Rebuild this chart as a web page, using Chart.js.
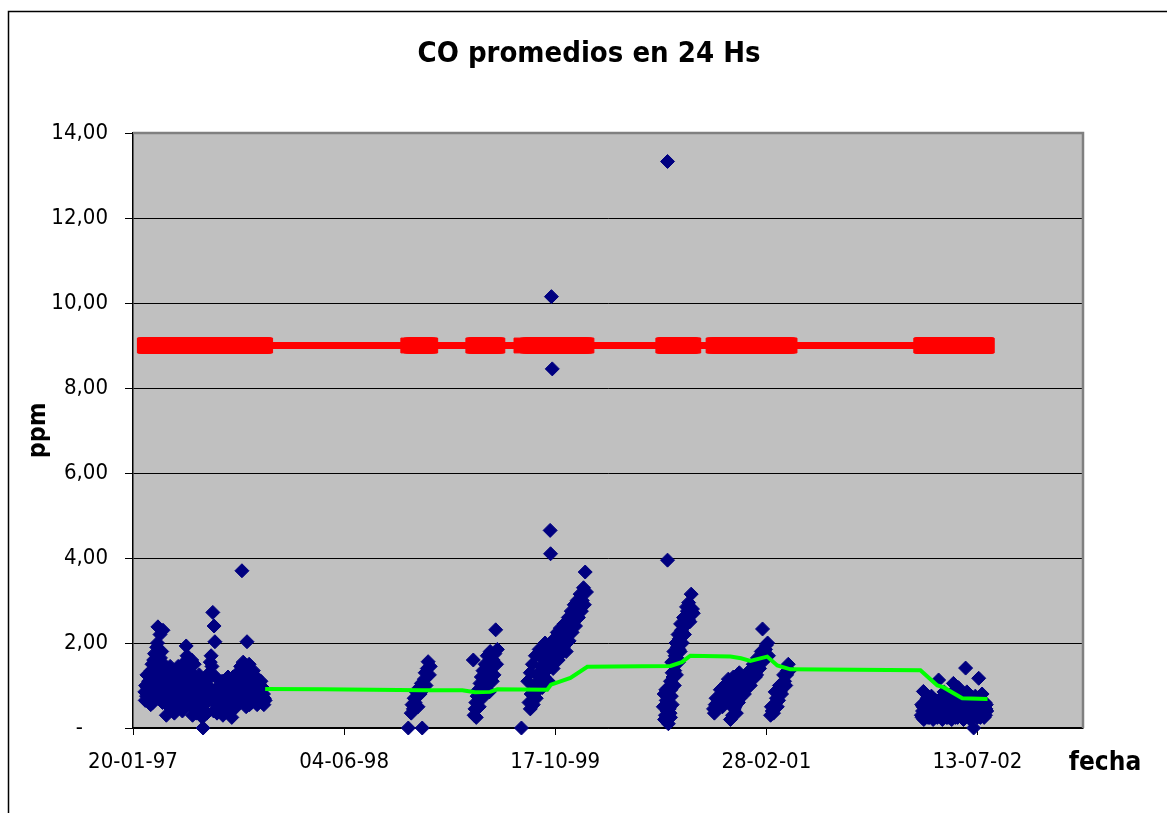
<!DOCTYPE html>
<html>
<head>
<meta charset="utf-8">
<script src="https://cdn.jsdelivr.net/npm/chart.js@4/dist/chart.umd.min.js"></script>
<style>
  html, body { margin: 0; padding: 0; background: #ffffff; }
  #wrap { width: 1167px; height: 813px; position: relative; }
</style>
</head>
<body>
<div id="wrap"><canvas id="c"></canvas></div>
<script>
// ---- DATA ----------------------------------------------------------
// x = days since 20-01-97, y = CO 24 h average (ppm)
const baseDate = [1997, 0, 20];
const xTicks = [0, 500, 1000, 1500, 2000];   // 20-01-97 ... 13-07-02
const xMaxDays = 2250;
const yTicks = [0, 2, 4, 6, 8, 10, 12, 14];
const chartTitle = 'CO promedios en 24 Hs';
const yTitle = 'ppm';
const xTitle = 'fecha';
const limitPpm = 9.0;   // norma: 9 ppm

const period1 = [[28,0.85],[30,1.0],[32,0.75],[34,0.95],[37,1.1],[39,0.7],[41,1.2],[43,1.35],[45,1.5],[47,0.6],[49,1.6],[51,1.75],[54,1.4],[56,1.9],[58,2.0],[59,2.38],[60,1.1],[62,0.9],[64,2.2],[68,1.8],[71,2.3],[73,1.5],[75,1.3],[77,1.0],[79,0.3],[81,0.55],[83,0.8],[85,1.2],[88,1.45],[90,0.45],[92,0.7],[94,1.0],[96,1.3],[98,0.35],[100,0.6],[102,0.9],[105,1.1],[107,1.45],[109,0.5],[111,0.75],[113,1.25],[115,0.95],[117,0.4],[119,0.65],[122,1.55],[124,1.1],[126,1.93],[128,1.7],[130,0.8],[132,1.35],[134,0.55],[136,1.0],[139,1.6],[141,0.3],[143,0.75],[145,1.5],[147,1.2],[149,0.9],[151,1.1],[153,0.5],[156,0.65],[158,0.85],[160,1.05],[162,0.4],[164,0.25],[166,0.0],[168,0.55],[170,0.7],[173,0.85],[175,0.35],[177,1.0],[179,0.65],[181,1.3],[183,1.55],[185,1.7],[187,1.45],[189,2.72],[192,2.4],[194,2.03],[196,1.2],[198,0.9],[200,0.5],[202,0.75],[204,1.0],[207,0.6],[209,0.85],[211,1.1],[213,0.3],[215,0.55],[217,0.8],[219,0.95],[221,0.7],[224,1.05],[226,0.5],[228,0.75],[230,0.9],[232,1.1],[234,0.25],[236,0.6],[238,0.85],[241,1.0],[243,0.7],[245,0.95],[247,0.55],[249,0.8],[251,1.15],[253,0.65],[256,1.3],[258,3.7],[262,0.9],[264,1.2],[266,1.4],[268,0.5],[270,2.03],[272,0.75],[274,1.05],[275,1.5],[277,0.85],[279,1.25],[281,0.6],[283,1.0],[285,1.35],[287,0.7],[289,0.95],[292,1.2],[294,0.55],[296,0.85],[298,1.05],[300,0.65],[302,0.9],[304,0.75],[306,0.6],[309,0.8],[311,0.7],[313,0.65],
  [29,0.65],[33,1.25],[38,0.9],[42,0.55],[46,1.05],[50,0.8],[53,1.2],[57,0.7],[61,1.45],[65,1.65],[67,1.05],[70,0.6],[74,0.85],[78,1.4],[82,1.05],[86,0.65],[89,0.95],[93,1.35],[97,0.75],[101,1.15],[104,0.45],[108,0.9],[112,1.05],[116,1.35],[120,0.85],[123,0.6],[127,1.25],[131,1.05],[135,0.75],[138,1.3],[142,0.95],[146,0.6],[150,0.35],[154,0.95],[157,1.25],[161,0.7],[165,0.45],[169,1.0],[172,1.15],[176,0.8],[180,0.95],[184,1.2],[188,0.65],[191,0.4],[195,0.8],[199,0.35],[203,0.95],[206,0.45],[210,0.8],[214,0.6],[218,0.4],[222,0.9],[225,1.2],[229,0.45],[233,0.7],[237,1.2],[240,0.45],[244,1.05],[248,1.3],[252,0.9],[255,1.45],[259,0.75],[261,1.55],[263,1.1],[267,0.75],[271,1.3],[276,0.55],[280,1.1],[284,0.8],[288,1.2],[291,0.6],[295,1.0],[299,0.8],[303,1.1],[307,0.95],[310,0.55]];

const period2 = [[652,0.0],[659,0.35],[661,0.55],[664,0.45],[666,0.7],[668,0.6],[671,0.85],[673,0.75],[675,0.5],[678,0.95],[680,0.8],[683,1.05],[685,0.0],[687,0.9],[690,1.15],[692,1.3],[694,1.0],[697,1.4],[699,1.56],[702,1.25],[704,1.45]];

const period3 = [[806,1.6],[808,0.3],[810,0.45],[812,0.6],[813,0.25],[815,0.75],[818,0.9],[820,0.5],[822,1.05],[825,1.2],[827,0.7],[829,1.35],[832,1.0],[834,1.5],[837,1.15],[839,1.7],[841,1.3],[844,0.85],[846,1.8],[848,1.45],[851,1.1],[853,1.6],[855,1.25],[857,1.75],[859,2.31],[861,1.5],[863,1.85]];

const period4 = [[920,0.0],[935,1.1],[938,0.6],[941,0.45],[941,1.3],[943,0.8],[946,1.5],[948,0.55],[950,1.0],[953,1.7],[955,0.7],[957,1.25],[960,0.9],[962,1.85],[965,1.1],[967,1.45],[969,0.95],[972,1.6],[974,1.2],[976,2.0],[979,1.35],[981,1.75],[984,1.1],[986,1.5],[988,4.65],[989,4.1],[991,10.15],[993,8.45],[993,1.9],[995,1.4],[998,2.1],[1000,1.65],[1002,1.85],[1005,2.25],[1007,1.6],[1010,2.0],[1012,2.35],[1014,1.75],[1017,2.15],[1019,1.9],[1021,2.45],[1024,2.1],[1026,1.8],[1029,2.3],[1031,2.6],[1033,2.05],[1036,2.4],[1038,2.75],[1040,2.25],[1043,2.55],[1045,2.9],[1048,2.4],[1050,2.7],[1052,3.0],[1055,2.6],[1057,2.85],[1059,3.15],[1062,2.75],[1064,3.0],[1067,3.3],[1069,2.9],[1071,3.67],[1074,3.2]];

const period5 = [[1256,0.5],[1258,0.8],[1261,0.3],[1263,0.65],[1266,13.33],[1266,3.95],[1268,0.1],[1268,0.95],[1270,0.45],[1273,1.1],[1273,0.25],[1275,0.75],[1277,1.3],[1277,0.55],[1280,1.5],[1282,1.0],[1284,1.7],[1287,1.25],[1289,1.9],[1292,1.55],[1294,2.1],[1296,1.8],[1299,2.3],[1301,2.0],[1303,2.45],[1306,2.2],[1308,2.6],[1310,2.5],[1313,2.75],[1315,2.55],[1318,2.85],[1320,2.65],[1322,3.15],[1325,2.8],[1327,2.7],
  [1259,0.2],[1262,0.9],[1265,0.4],[1269,0.7],[1272,0.35],[1274,0.9],[1276,1.55],[1279,1.2],[1281,1.8],[1283,1.35],[1286,2.0],[1288,1.65],[1291,2.2],[1293,1.85],[1297,2.45],[1300,2.25],[1304,2.6],[1307,2.4],[1311,2.85],[1316,2.95],[1319,2.5]];

const period6 = [[1375,0.45],[1379,0.55],[1384,0.5],[1389,0.7],[1394,0.65],[1398,0.85],[1403,0.75],[1408,1.0],[1413,0.9],[1415,0.2],[1417,1.1],[1420,0.3],[1422,1.2],[1424,0.45],[1427,1.05],[1429,0.35],[1431,1.25],[1434,0.6],[1436,1.3],[1439,0.75],[1441,1.15],[1443,0.9],[1448,0.8],[1453,1.05],[1458,1.15],[1462,1.0],[1467,1.3],[1472,1.4],[1477,1.25],[1481,1.55],[1486,1.6],[1491,2.33],[1493,1.75],[1498,1.85],[1503,2.0],[1505,1.7],[1510,0.3],[1514,0.4],[1519,0.55],[1524,0.7],[1529,0.65],[1533,0.85],[1538,1.0],[1543,1.1],[1548,1.25],[1552,1.5],[1555,1.35],
  [1377,0.35],[1381,0.7],[1386,0.6],[1391,0.9],[1396,0.5],[1401,1.0],[1406,0.7],[1410,1.15],[1418,0.55],[1423,0.75],[1426,0.5],[1432,0.9],[1437,0.7],[1445,1.0],[1450,1.2],[1455,0.95],[1460,1.35],[1464,1.15],[1469,1.5],[1474,1.2],[1479,1.65],[1484,1.4],[1488,1.8],[1496,1.6],[1500,1.95],[1512,0.5],[1517,0.35],[1521,0.85],[1526,0.5],[1531,1.0],[1536,0.8],[1541,1.25],[1546,1.0],[1550,1.35]];

const period7 = [[1867,0.3],[1868,0.55],[1870,0.4],[1872,0.86],[1873,0.2],[1875,0.6],[1877,0.35],[1879,0.5],[1881,0.7],[1883,0.25],[1885,0.45],[1887,0.6],[1889,0.3],[1891,0.75],[1893,0.4],[1895,0.2],[1897,0.55],[1899,0.35],[1901,0.65],[1903,0.45],[1905,0.25],[1908,1.13],[1909,0.5],[1911,0.3],[1913,0.7],[1915,0.4],[1917,0.2],[1919,0.55],[1921,0.85],[1923,0.35],[1925,0.6],[1927,0.25],[1929,0.45],[1931,0.7],[1933,0.3],[1935,0.5],[1937,0.8],[1939,0.2],[1941,0.4],[1943,1.05],[1945,0.6],[1947,0.3],[1949,0.5],[1951,0.75],[1953,0.25],[1955,0.95],[1957,0.45],[1959,0.6],[1961,0.3],[1963,0.8],[1965,0.5],[1967,0.2],[1969,0.65],[1972,1.41],[1973,0.4],[1975,0.85],[1977,0.3],[1979,0.55],[1981,0.7],[1983,0.2],[1985,0.45],[1987,0.6],[1989,0.35],[1991,0.0],[1993,0.5],[1995,0.75],[1997,0.3],[1999,0.55],[2001,0.4],[2003,1.17],[2005,0.65],[2007,0.25],[2009,0.5],[2011,0.8],[2013,0.35],[2015,0.6],[2017,0.45],[2019,0.3],[2021,0.55],[2022,0.4],
  [1869,0.25],[1871,0.5],[1874,0.4],[1876,0.25],[1878,0.45],[1880,0.3],[1882,0.5],[1884,0.35],[1886,0.25],[1888,0.45],[1890,0.55],[1892,0.3],[1894,0.45],[1896,0.4],[1898,0.25],[1900,0.5],[1902,0.3],[1904,0.55],[1906,0.4],[1910,0.65],[1912,0.5],[1914,0.3],[1916,0.55],[1918,0.4],[1920,0.3],[1922,0.5],[1924,0.45],[1926,0.35],[1928,0.55],[1930,0.25],[1932,0.45],[1934,0.4],[1936,0.3],[1938,0.55],[1940,0.5],[1942,0.3],[1944,0.45],[1946,0.4],[1948,0.25],[1950,0.55],[1952,0.4],[1954,0.3],[1956,0.5],[1958,0.35],[1960,0.45],[1962,0.55],[1964,0.25],[1966,0.4],[1968,0.45],[1970,0.3],[1974,0.55],[1976,0.45],[1978,0.35],[1980,0.5],[1982,0.4],[1984,0.3],[1986,0.45],[1988,0.5],[1990,0.3],[1992,0.35],[1994,0.4],[1996,0.55],[1998,0.45],[2000,0.25],[2002,0.35],[2004,0.5],[2006,0.45],[2008,0.35],[2010,0.3],[2012,0.55],[2014,0.4],[2016,0.25],[2018,0.6],[2020,0.45]];

// moving average (green line)
const avgDays = [313, 450, 687, 780, 810, 846, 863, 981, 990, 1036, 1076, 1273, 1300, 1320, 1415, 1440, 1462, 1502, 1526, 1557, 1865, 1905, 1919, 1964, 2024];
const avgPpm  = [0.92, 0.91, 0.89, 0.89, 0.84, 0.85, 0.91, 0.90, 1.02, 1.18, 1.44, 1.46, 1.55, 1.70, 1.68, 1.64, 1.58, 1.68, 1.47, 1.38, 1.36, 1.00, 0.96, 0.70, 0.68];

// ---- BUILD ---------------------------------------------------------
const allPeriods = [period1, period2, period3, period4, period5, period6, period7];
const coPoints = allPeriods.flat().map(p => ({ x: p[0], y: p[1] }));
const limitPoints = [...new Set(allPeriods.flat().map(p => p[0]))].sort((a, b) => a - b).map(d => ({ x: d, y: limitPpm }));
const avgPoints = avgDays.map((d, i) => ({ x: d, y: avgPpm[i] }));

const BASE = Date.UTC(baseDate[0], baseDate[1], baseDate[2]);
function fmtDate(v) {
  const d = new Date(BASE + v * 86400000);
  const dd = String(d.getUTCDate()).padStart(2, '0');
  const mm = String(d.getUTCMonth() + 1).padStart(2, '0');
  const yy = String(d.getUTCFullYear() % 100).padStart(2, '0');
  return dd + '-' + mm + '-' + yy;
}
function fmtPpm(v) {
  if (v === 0) return '-\u2007\u2007';
  return v.toFixed(2).replace('.', ',');
}

const FONT = "'DejaVu Sans Condensed', 'DejaVu Sans', sans-serif";

const decor = {
  id: 'decor',
  beforeDraw(chart) {
    const ctx = chart.ctx, a = chart.chartArea;
    ctx.save();
    ctx.fillStyle = '#ffffff';
    ctx.fillRect(0, 0, chart.width, chart.height);
    ctx.strokeStyle = '#000000';
    ctx.lineWidth = 1.5;
    ctx.strokeRect(8.5, 11.5, 1300, 900);
    ctx.fillStyle = '#C0C0C0';
    ctx.fillRect(a.left, a.top, a.right - a.left, a.bottom - a.top);
    ctx.restore();
  },
  beforeDatasetsDraw(chart) {
    const ctx = chart.ctx, a = chart.chartArea;
    ctx.save();
    ctx.strokeStyle = '#808080';
    ctx.lineWidth = 2.5;
    ctx.beginPath();
    ctx.moveTo(a.left, a.top);
    ctx.lineTo(a.right, a.top);
    ctx.lineTo(a.right, a.bottom);
    ctx.stroke();
    ctx.restore();
  },
  afterDraw(chart) {
    const ctx = chart.ctx;
    ctx.save();
    ctx.fillStyle = '#000000';
    ctx.textAlign = 'center';
    ctx.textBaseline = 'middle';
    ctx.font = "bold 29px " + FONT;
    ctx.fillText(chartTitle, 589, 54);
    ctx.font = "bold 26px " + FONT;
    ctx.textBaseline = 'alphabetic';
    ctx.fillText(xTitle, 1105, 770);
    ctx.restore();
  }
};

new Chart(document.getElementById('c'), {
  type: 'scatter',
  data: {
    datasets: [
      {
        label: 'CO',
        data: coPoints,
        pointStyle: 'rectRot',
        pointRadius: 7,
        pointHoverRadius: 7,
        backgroundColor: '#000080',
        borderColor: '#000080',
        borderWidth: 1,
        clip: false,
        order: 3
      },
      {
        label: 'Norma',
        data: limitPoints,
        showLine: true,
        borderColor: '#FF0000',
        borderWidth: 7,
        pointStyle: 'rect',
        pointRadius: 10.5,
        pointHoverRadius: 10.5,
        pointBackgroundColor: '#FF0000',
        pointBorderColor: '#FF0000',
        pointBorderWidth: 1,
        order: 2
      },
      {
        label: 'Promedio',
        data: avgPoints,
        showLine: true,
        borderColor: '#00FF00',
        borderWidth: 4,
        pointRadius: 0,
        pointHoverRadius: 0,
        tension: 0,
        order: 1
      }
    ]
  },
  options: {
    responsive: true,
    maintainAspectRatio: false,
    animation: false,
    events: [],
    layout: { padding: { left: 0, top: 133, right: 84, bottom: 0 } },
    plugins: { legend: { display: false }, tooltip: { enabled: false }, title: { display: false } },
    scales: {
      x: {
        type: 'linear',
        min: 0,
        max: xMaxDays,
        afterBuildTicks(s) { s.ticks = xTicks.map(v => ({ value: v })); },
        afterFit(s) { s.height = 85; },
        ticks: {
          callback: v => fmtDate(v),
          font: { family: FONT, size: 22 },
          color: '#000000',
          padding: 14,
          maxRotation: 0,
          autoSkip: false
        },
        grid: { drawOnChartArea: false, drawTicks: true, tickLength: 7, color: '#000000', lineWidth: 1 },
        border: { color: '#000000', width: 1.5 }
      },
      y: {
        min: 0,
        max: 14,
        afterBuildTicks(s) { s.ticks = yTicks.map(v => ({ value: v })); },
        afterFit(s) { s.width = 133; },
        ticks: {
          callback: v => fmtPpm(v),
          font: { family: FONT, size: 22 },
          color: '#000000',
          padding: 17
        },
        grid: { color: '#000000', lineWidth: 1, drawTicks: true, tickLength: 8 },
        border: { color: '#000000', width: 1.5 },
        title: {
          display: true,
          text: yTitle,
          color: '#000000',
          font: { family: FONT, size: 25, weight: 'bold' },
          padding: { top: 23, bottom: 0 }
        }
      }
    }
  },
  plugins: [decor]
});
</script>
</body>
</html>
